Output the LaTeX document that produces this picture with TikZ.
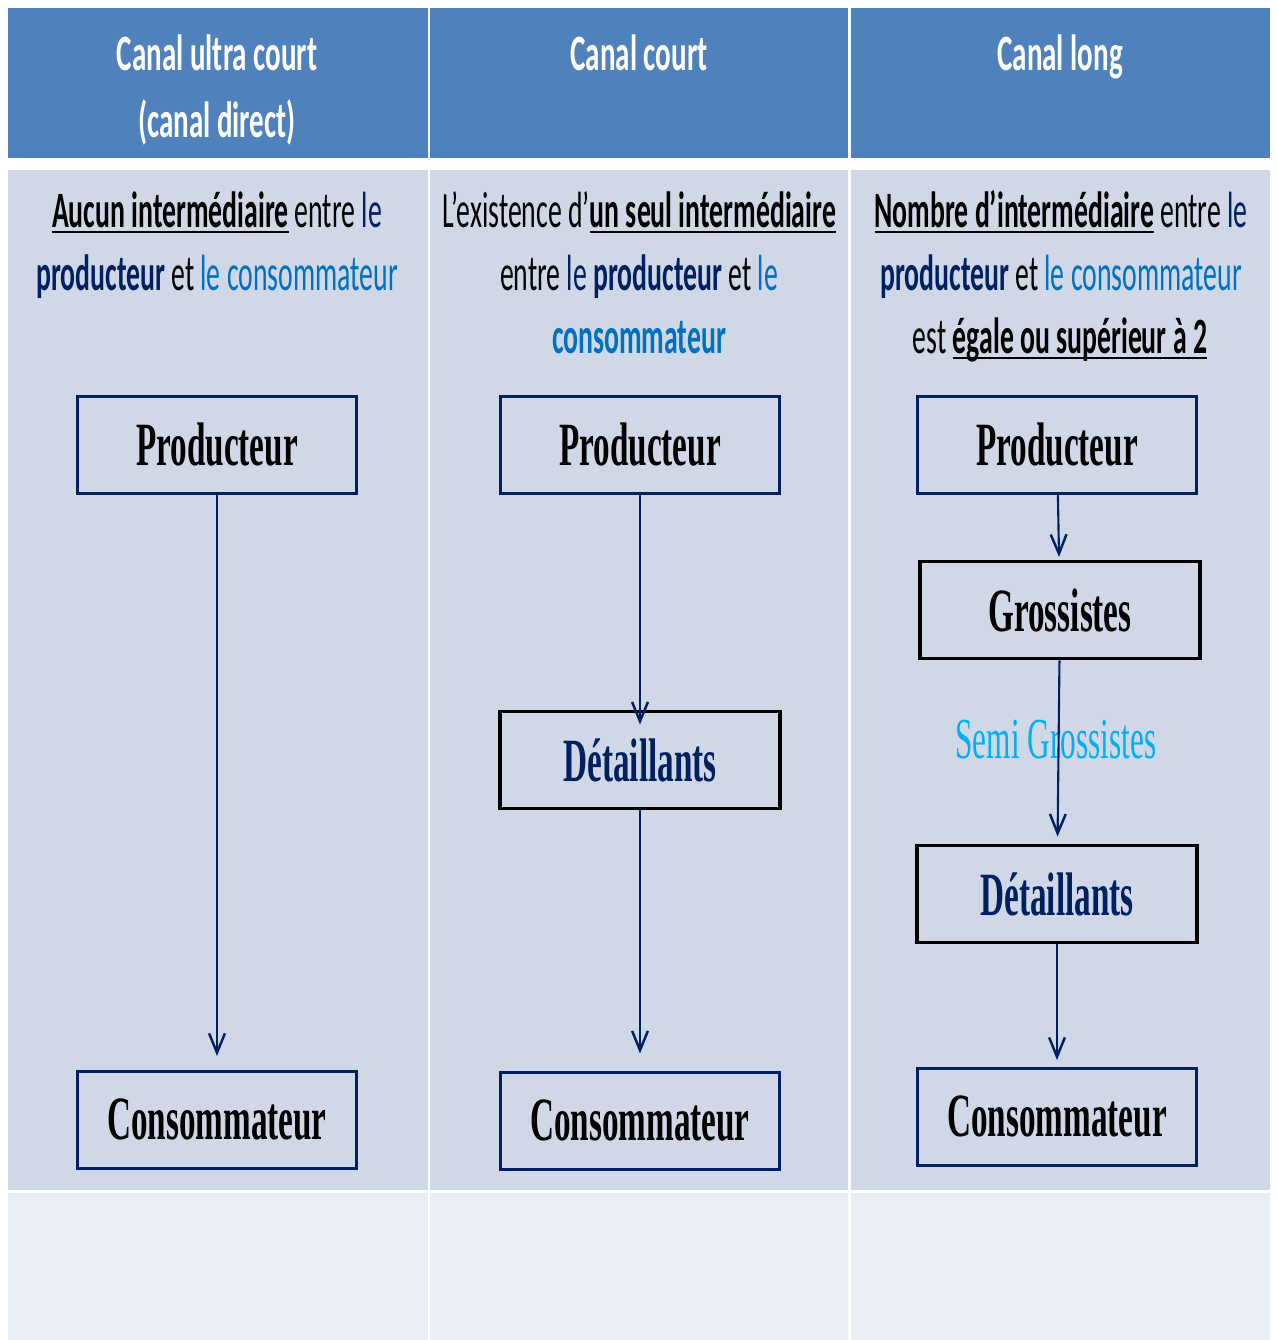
\documentclass[tikz,border=0pt]{standalone}
\usepackage{fontspec}
\usetikzlibrary{arrows.meta}
\setmainfont{Carlito}
\newfontfamily\capfont[FakeStretch=0.57]{Carlito}
\newfontfamily\txtfont[FakeStretch=0.545]{Carlito}
\newfontfamily\boxfont[FakeStretch=0.54]{Liberation Serif}

\definecolor{hdblue}{HTML}{4F81BD}
\definecolor{bodyblue}{HTML}{D0D8E8}
\definecolor{lowblue}{HTML}{E9EDF4}
\definecolor{navy}{HTML}{002060}
\definecolor{midblue}{HTML}{0070C0}
\definecolor{skyblue}{HTML}{00B0F0}

\newsavebox{\ulbox}
\newcommand{\undl}[1]{\sbox{\ulbox}{#1}\rlap{\rule[-3.6pt]{\wd\ulbox}{1.6pt}}\usebox{\ulbox}}
\newcommand{\nv}[1]{\textcolor{navy}{#1}}
\newcommand{\lb}[1]{\textcolor{midblue}{#1}}

\begin{document}
\begin{tikzpicture}[x=0.02cm,y=-0.02cm,
  hdtext/.style={text=white,font=\capfont\bfseries\fontsize{29}{35}\selectfont,anchor=base,inner sep=0},
  bodytext/.style={font=\txtfont\fontsize{29}{35}\selectfont,anchor=base,inner sep=0},
  boxnavy/.style={draw=navy,line width=1.7pt,minimum width=5.6cm,minimum height=1.94cm,
    font=\boxfont\bfseries\fontsize{35}{40}\selectfont,inner sep=0},
  boxblack/.style={boxnavy,draw=black,line width=2.2pt},
  flow/.style={draw=navy,line width=1.2pt,-{Straight Barb[length=11pt,width=9pt,line width=1.4pt]}}]

  % background and table cells
  \fill[white] (0,0) rectangle (1278,1340);
  \fill[hdblue] (8,8) rectangle (428,158);
  \fill[hdblue] (430,8) rectangle (848,158);
  \fill[hdblue] (851,8) rectangle (1270,158);
  \fill[bodyblue] (8,170) rectangle (428,1190);
  \fill[bodyblue] (430,170) rectangle (848,1190);
  \fill[bodyblue] (851,170) rectangle (1270,1190);
  \fill[lowblue] (8,1193) rectangle (428,1340);
  \fill[lowblue] (430,1193) rectangle (848,1340);
  \fill[lowblue] (851,1193) rectangle (1270,1340);

  % headings
  \node[hdtext] (h1a) at (217,70) {Canal ultra court};
  \node[hdtext] (h1b) at (217,137) {(canal direct)};
  \node[hdtext] (h2) at (639,70) {Canal court};
  \node[hdtext] (h3) at (1060,70) {Canal long};

  % descriptions
  \node[bodytext] (t1a) at (217,227) {\undl{\textbf{Aucun intermédiaire}} entre \nv{le}};
  \node[bodytext] (t1b) at (217,290) {\nv{\textbf{producteur}} et \lb{le consommateur}};
  \node[bodytext] (t2a) at (639,227) {L’existence d’\undl{\textbf{un seul intermédiaire}}};
  \node[bodytext] (t2b) at (639,290) {entre \nv{le \textbf{producteur}} et \lb{le}};
  \node[bodytext] (t2c) at (639,353) {\lb{\textbf{consommateur}}};
  \node[bodytext] (t3a) at (1061,227) {\undl{\textbf{Nombre d’intermédiaire}} entre \nv{le}};
  \node[bodytext] (t3b) at (1061,290) {\nv{\textbf{producteur}} et \lb{le consommateur}};
  \node[bodytext] (t3c) at (1060,353) {est \undl{\textbf{égale ou supérieur à 2}}};

  % canal ultra court
  \node[boxnavy] (prod1) at (217,445) {Producteur};
  \node[boxnavy] (cons1) at (217,1120) {Consommateur};
  \draw[flow,shorten >=8pt] (prod1) -- (cons1);

  % canal court
  \node[boxnavy] (prod2) at (640,445) {Producteur};
  \node[boxblack,text=navy] (det2) at (640,760) {Détaillants};
  \node[boxnavy] (cons2) at (640,1121) {Consommateur};
  \draw[flow,shorten >=-8.5pt] (prod2) -- (det2);
  \draw[flow,shorten >=10pt] (det2) -- (cons2);

  % canal long
  \node[boxnavy] (prod3) at (1057,445) {Producteur};
  \node[boxblack] (gros3) at (1060,610) {Grossistes};
  \node[text=skyblue,font=\boxfont\fontsize{33}{38}\selectfont,anchor=base,inner sep=0]
    (semi3) at (1056,758) {Semi Grossistes};
  \node[boxblack,text=navy] (det3) at (1057,894) {Détaillants};
  \node[boxnavy] (cons3) at (1057,1117) {Consommateur};
  \draw[flow,shorten >=1.5pt] (prod3) -- (gros3);
  \draw[flow,shorten >=4pt] (gros3) -- (det3);
  \draw[flow,shorten >=4pt] (det3) -- (cons3);
\end{tikzpicture}
\end{document}
